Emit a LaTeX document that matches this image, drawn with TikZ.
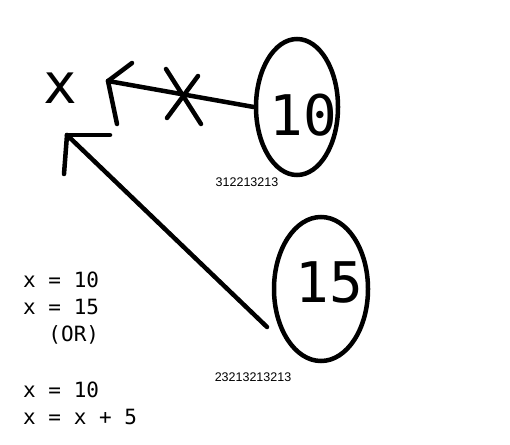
\documentclass[tikz,border=0pt]{standalone}
\usepackage{fontspec}
\setmonofont{DejaVu Sans Mono}
\newfontfamily\tagfont{Liberation Sans}
\usetikzlibrary{shapes.geometric}

\begin{document}
\begin{tikzpicture}[x=1pt,y=-1pt]
\tikzstyle{bubble} = [ellipse, draw, line width=4.5pt, inner sep=0pt];
\tikzstyle{bignum} = [font=\ttfamily\fontsize{56}{60}\selectfont, anchor=base, inner sep=0pt];
\tikzstyle{code} = [font=\ttfamily\fontsize{21}{27}\selectfont, anchor=base west, inner sep=0pt];
\tikzstyle{tag} = [font=\tagfont\fontsize{12.5}{14}\selectfont, anchor=base, inner sep=0pt];
\tikzstyle{stroke} = [draw, line width=4.5pt, line cap=round];
\useasboundingbox (0,0) rectangle (510,444);

% the variable
\node [bignum] (var) at (60,103) {x};

% values
\node [bubble, minimum width=82pt, minimum height=136pt] (ten) at (297,107) {};
\node [bignum] (tentext) at (303,135) {10};
\node [tag] (tenaddr) at (247,186) {312213213};
\node [bubble, minimum width=94pt, minimum height=144pt] (fifteen) at (321,289) {};
\node [bignum] (fifteentext) at (329,302) {15};
\node [tag] (fifteenaddr) at (253,381) {23213213213};

% code
\node [code] (line1) at (23,287) {x = 10};
\node [code] (line2) at (23,314) {x = 15};
\node [code] (line3) at (23,341) {\phantom{xx}(OR)};
\node [code] (line4) at (23,397) {x = 10};
\node [code] (line5) at (23,424) {x = x + 5};

% old link, crossed out
\coordinate (tipa) at (108,81);
\path [stroke] (ten.west) -- (tipa);
\path [stroke] (tipa) -- (132,63);
\path [stroke] (tipa) -- (117,124);
\path [stroke] (166,69) -- (201,124);
\path [stroke] (198,76) -- (167,118);

% new link
\coordinate (tipb) at (67,135);
\coordinate (fifteenend) at (267,327);
\path [stroke] (fifteenend) -- (tipb);
\path [stroke] (tipb) -- (110,135);
\path [stroke] (tipb) -- (64,174);
\end{tikzpicture}
\end{document}
